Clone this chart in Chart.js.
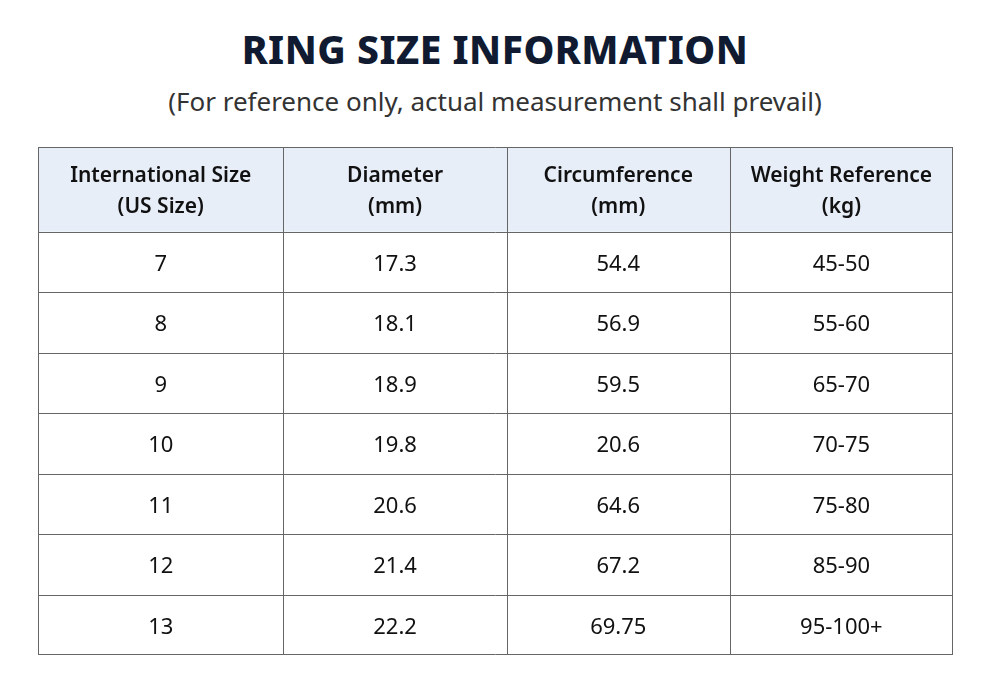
<!DOCTYPE html>
<html><head><meta charset="utf-8">
<script src="https://cdn.jsdelivr.net/npm/chart.js@4"></script>
<style>
body{margin:0;width:990px;height:682px;background:#fff;font-family:"Noto Sans",sans-serif;position:relative;overflow:hidden}
h1{position:absolute;top:22px;left:0;width:990px;margin:0;text-align:center;font-size:39px;font-weight:800;color:#101a30;letter-spacing:0.5px}
h2{position:absolute;top:83px;left:0;width:990px;margin:0;text-align:center;font-size:26px;font-weight:400;color:#333}
#wrap{position:absolute;left:38px;top:147px;width:915px;height:508px}
</style></head><body>
<h1>RING SIZE INFORMATION</h1>
<h2>(For reference only, actual measurement shall prevail)</h2>
<div id="wrap"><canvas id="tbl"></canvas></div>
<script>
const headers = [['International Size','(US Size)'],['Diameter','(mm)'],['Circumference','(mm)'],['Weight Reference','(kg)']];
const sizes = ['7','8','9','10','11','12','13'];
const diameters = ['17.3','18.1','18.9','19.8','20.6','21.4','22.2'];
const circumferences = ['54.4','56.9','59.5','20.6','64.6','67.2','69.75'];
const weights = ['45-50','55-60','65-70','70-75','75-80','85-90','95-100+'];

const colEdges = [0, 1.1, 2.1, 3.1, 4.1];
const headerH = 1.4;
const rowCount = sizes.length;
const yMax = rowCount + headerH;
const columns = [sizes, diameters, circumferences, weights];

const cells = [];
headers.forEach((h, c) => cells.push({x: (colEdges[c] + colEdges[c+1]) / 2, y: headerH / 2, text: h, head: true}));
columns.forEach((col, c) => col.forEach((v, r) => cells.push({x: (colEdges[c] + colEdges[c+1]) / 2, y: headerH + r + 0.5, text: [v], head: false})));

const tablePlugin = {
  id: 'tablePlugin',
  beforeDatasetsDraw(chart) {
    const {ctx, scales: {x, y}} = chart;
    ctx.save();
    ctx.fillStyle = '#e8eef8';
    ctx.fillRect(x.getPixelForValue(0), y.getPixelForValue(0), x.getPixelForValue(4.1) - x.getPixelForValue(0), y.getPixelForValue(headerH) - y.getPixelForValue(0));
    ctx.strokeStyle = '#666';
    ctx.lineWidth = 1;
    const rows = [0, headerH];
    for (let r = 1; r <= rowCount; r++) rows.push(headerH + r);
    rows.forEach(v => { const py = Math.round(y.getPixelForValue(v)) + 0.5; ctx.beginPath(); ctx.moveTo(x.getPixelForValue(0), Math.min(py, chart.height - 0.5)); ctx.lineTo(x.getPixelForValue(4.1), Math.min(py, chart.height - 0.5)); ctx.stroke(); });
    colEdges.forEach(v => { let px = Math.round(x.getPixelForValue(v)) + 0.5; px = Math.min(Math.max(px, 0.5), chart.width - 0.5); ctx.beginPath(); ctx.moveTo(px, y.getPixelForValue(0)); ctx.lineTo(px, y.getPixelForValue(yMax)); ctx.stroke(); });
    ctx.restore();
  },
  afterDatasetsDraw(chart) {
    const {ctx} = chart;
    const meta = chart.getDatasetMeta(0);
    ctx.save();
    ctx.textAlign = 'center';
    ctx.textBaseline = 'middle';
    meta.data.forEach((pt, i) => {
      const cell = cells[i];
      ctx.fillStyle = '#111';
      ctx.font = cell.head ? '600 21px "Noto Sans"' : '22px "Noto Sans"';
      const lh = 31;
      cell.text.forEach((t, k) => ctx.fillText(t, pt.x, pt.y + 2.5 + (k - (cell.text.length - 1) / 2) * lh));
    });
    ctx.restore();
  }
};

new Chart(document.getElementById('tbl'), {
  type: 'scatter',
  data: {datasets: [{data: cells.map(c => ({x: c.x, y: c.y})), pointRadius: 0, pointHoverRadius: 0}]},
  options: {
    responsive: true, maintainAspectRatio: false, animation: false,
    layout: {padding: 0},
    plugins: {legend: {display: false}, tooltip: {enabled: false}},
    events: [],
    scales: {
      x: {type: 'linear', min: 0, max: 4.1, display: false},
      y: {type: 'linear', min: 0, max: yMax, reverse: true, display: false}
    }
  },
  plugins: [tablePlugin]
});
</script>
</body></html>
